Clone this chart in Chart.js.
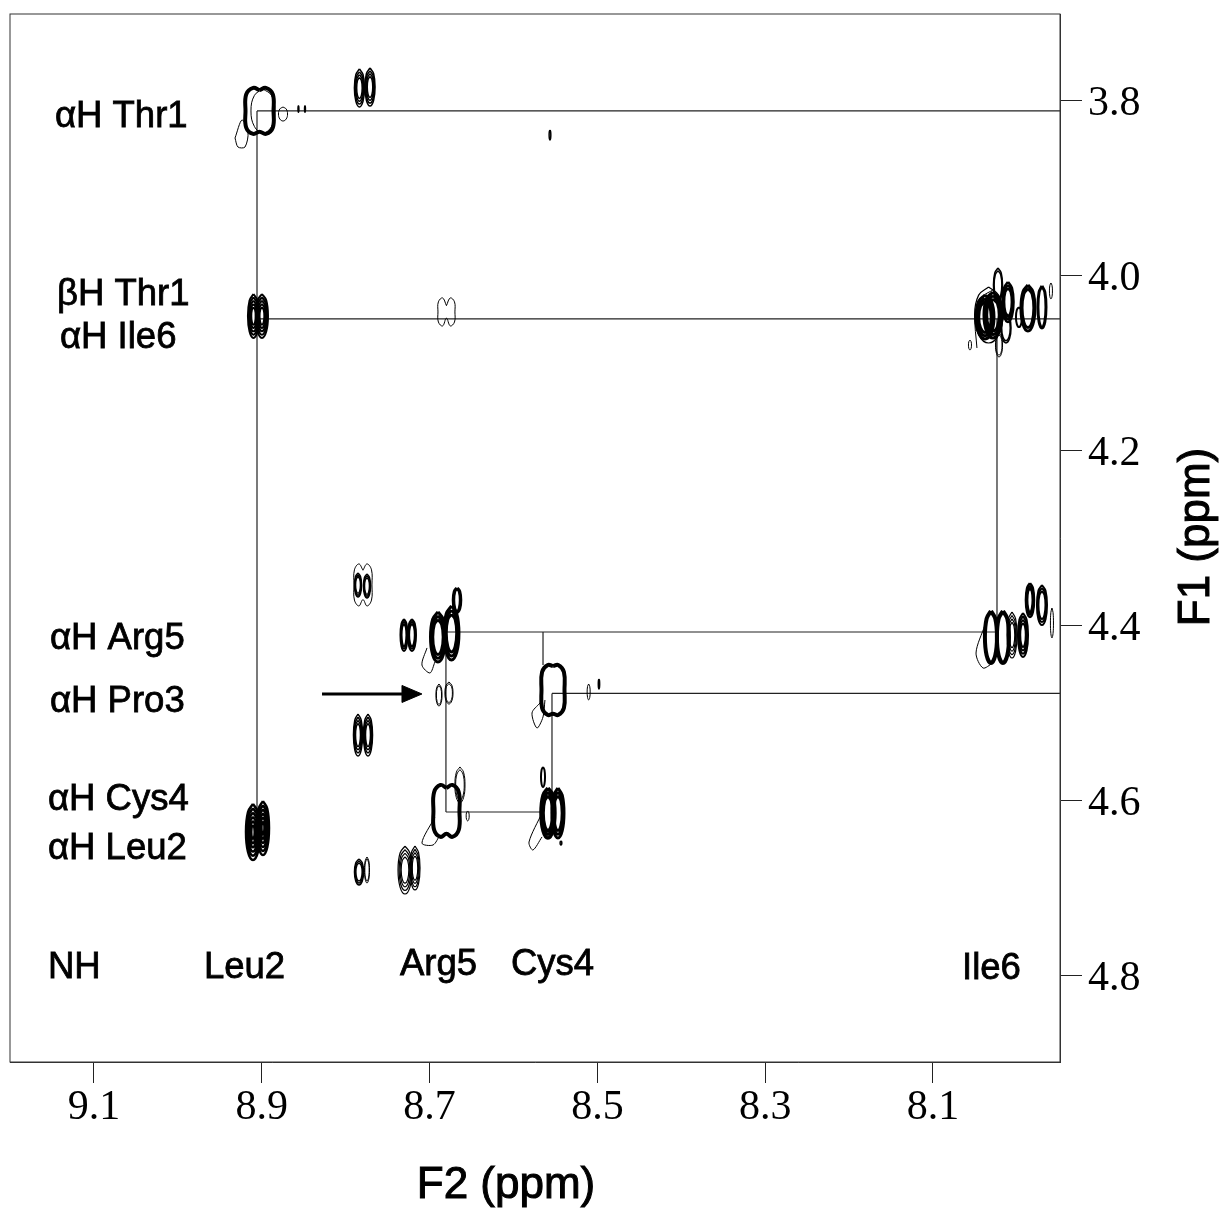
<!DOCTYPE html>
<html>
<head>
<meta charset="utf-8">
<title>F2 (ppm) / F1 (ppm)</title>
<script src="https://cdn.jsdelivr.net/npm/chart.js@4/dist/chart.umd.min.js"></script>
<style>
  html, body { margin: 0; background: #fff; }
  canvas { display: block; }
</style>
</head>
<body>
<canvas id="nmrChart" width="1219" height="1209"></canvas>
<script>
// axis ticks
const xTicks = [9.1, 8.9, 8.7, 8.5, 8.3, 8.1];
const yTicks = [3.8, 4.0, 4.2, 4.4, 4.6, 4.8];

// contour peaks, ppm: centre and half widths
const peakX = [8.9027, 8.8747, 8.8563, 8.8485, 8.7836, 8.7710, 8.5565, 8.9099, 8.8998, 8.6799,
  8.0380, 8.0285, 8.0225, 8.0106, 8.0130, 8.0213, 7.9868, 7.9701, 7.9594, 8.0559,
  8.7794, 8.7853, 8.7746, 8.7305, 8.7210, 8.6900, 8.6739, 8.6673, 8.6888, 8.6769,
  8.5529, 8.5104, 8.4981, 8.7853, 8.7734, 8.6799, 8.6638, 8.6546, 8.5589, 8.5470,
  8.5648, 8.5434, 8.7841, 8.7746, 8.7293, 8.7174, 8.9105, 8.8986, 8.0309, 8.0166,
  8.0058, 7.9927, 7.9844, 7.9701, 7.9582, 8.8986, 8.0337, 7.9975];
const peakY = [3.8114, 3.8149, 3.8091, 3.8091, 3.7851, 3.7840, 3.8389, 4.0457, 4.0457, 4.0411,
  4.0469, 4.0446, 4.0103, 4.0297, 4.0594, 4.0789, 4.0366, 4.0354, 4.0171, 4.0789,
  4.3531, 4.3531, 4.3543, 4.4103, 4.4103, 4.4126, 4.4080, 4.3703, 4.4789, 4.4766,
  4.4731, 4.4754, 4.4663, 4.5246, 4.5246, 4.6114, 4.5817, 4.6171, 4.6137, 4.6137,
  4.5726, 4.6480, 4.6811, 4.6789, 4.6789, 4.6766, 4.6354, 4.6309, 4.4126, 4.4126,
  4.4103, 4.4103, 4.3703, 4.3760, 4.3966, 3.8114, 4.0446, 4.0469];
const peakWidthX = [.0167, .0054, .0007, .0007, .0060, .0060, .0010, .0066, .0072, .0101,
  .0107, .0107, .0054, .0066, .0060, .0042, .0083, .0048, .0018, .0018,
  .0107, .0042, .0042, .0042, .0048, .0089, .0089, .0042, .0036, .0048,
  .0137, .0018, .0008, .0054, .0054, .0155, .0060, .0018, .0083, .0072,
  .0024, .0010, .0054, .0030, .0083, .0060, .0083, .0072, .0072, .0072,
  .0060, .0060, .0048, .0060, .0018, .0143, .0167, .0036];
const peakWidthY = [.0263, .0080, .0040, .0040, .0217, .0217, .0057, .0251, .0251, .0160,
  .0251, .0263, .0194, .0229, .0171, .0137, .0263, .0240, .0091, .0057,
  .0240, .0137, .0137, .0183, .0183, .0286, .0309, .0137, .0126, .0126,
  .0286, .0091, .0057, .0240, .0240, .0297, .0206, .0057, .0286, .0286,
  .0114, .0023, .0149, .0149, .0274, .0251, .0320, .0309, .0297, .0297,
  .0263, .0251, .0194, .0229, .0171, .0251, .0320, .0114];
// contour levels drawn per peak
const peakLevels = [1, 1, 1, 1, 4, 4, 1, 5, 5, 1,
  3, 3, 2, 3, 2, 2, 2, 1, 1, 1,
  1, 3, 3, 3, 3, 3, 3, 1, 2, 2,
  1, 1, 1, 4, 4, 1, 2, 1, 3, 3,
  1, 1, 3, 2, 4, 4, 6, 6, 1, 1,
  4, 4, 3, 3, 1, 1, 1, 1];
// peaks with a dip in the middle of the outline, and how far in the dip reaches
const notchedPeaks = [0, 9, 20, 30, 35];
const notchDepths = [.9, .45, .7, .95, .88];

// irregular low contours beside the strong peaks
const footX = [
  [8.9319, 8.9236, 8.9164, 8.9200, 8.9284, 8.9319],
  [8.0476, 8.0499, 8.0416, 8.0285],
  [8.7031, 8.7091, 8.6995, 8.6936],
  [8.5684, 8.5779, 8.5720, 8.5648, 8.5625],
  [8.6936, 8.7091, 8.6959, 8.6876],
  [8.5660, 8.5815, 8.5768, 8.5660],
  [8.0380, 8.0487, 8.0404, 8.0285]
];
const footY = [
  [3.8423, 3.8217, 3.8354, 3.8526, 3.8526, 3.8423],
  [4.0823, 4.0446, 4.0240, 4.0160],
  [4.4251, 4.4446, 4.4537, 4.4411],
  [4.4880, 4.4994, 4.5166, 4.5040, 4.4846],
  [4.6183, 4.6480, 4.6503, 4.6389],
  [4.6137, 4.6469, 4.6560, 4.6411],
  [4.3989, 4.4309, 4.4480, 4.4423]
];

// straight assignment lines between the peaks
const crossFromX = [8.9057, 8.9057, 8.9057, 8.0237, 8.6805, 8.5648, 8.5541, 8.5541, 8.6805, 8.6805];
const crossFromY = [3.8114, 3.8114, 4.0491, 4.0491, 4.4069, 4.4069, 4.4771, 4.4771, 4.4069, 4.6126];
const crossToX = [7.9486, 8.9057, 7.9486, 8.0237, 8.0237, 8.5648, 7.9486, 8.5541, 8.6805, 8.5648];
const crossToY = [3.8114, 4.6217, 4.0491, 4.4069, 4.4069, 4.4446, 4.4771, 4.5989, 4.6126, 4.6126];

// arrow pointing at the Pro3 cross peak
const arrowX = [8.8282, 8.7329];
const arrowY = [4.4777, 4.4777];
const arrowHeadX = [8.7329, 8.7091, 8.7329, 8.7329];
const arrowHeadY = [4.4680, 4.4777, 4.4874, 4.4680];

// annotations
const labelTexts = ['αH Thr1', 'βH Thr1', 'αH Ile6', 'αH Arg5', 'αH Pro3', 'αH Cys4', 'αH Leu2',
  'NH', 'Leu2', 'Arg5', 'Cys4', 'Ile6'];
const labelX = [9.1465, 9.1441, 9.1405, 9.1524, 9.1524, 9.1548, 9.1548,
  9.1548, 8.9689, 8.7353, 8.6030, 8.0654];
const labelY = [3.8185, 4.0219, 4.0711, 4.4151, 4.4871, 4.5991, 4.6551,
  4.7911, 4.7911, 4.7876, 4.7876, 4.7922];

// line weight per peak, px
const peakWeights = [4, 1, 1.2, 1.2, 1.5, 1.5, 1.5, 2, 2, 1,
  3, 3, 1.5, 2.5, 1.5, 1, 3, 3, 1, 1,
  1, 1.5, 1.5, 2, 2, 3, 3, 3.5, 1, 1,
  4, 1, 1.5, 1.5, 1.5, 4, 1, 1, 3.5, 3,
  2, 1.5, 1.5, 1, 1.2, 1.2, 2.5, 2.5, 4, 4,
  1.2, 2, 2.5, 2, 1, 1, 1.2, 2];

// unit outlines of a contour, run through a spline by the line element
const ovalShape = [[0, -1], [.71, -.71], [1, 0], [.71, .71], [0, 1], [-.71, .71], [-1, 0], [-.71, -.71], [0, -1]];

function notchShape(depth) {
  return [[0, -depth], [.45, -1], [.95, -.72], [1, 0], [.95, .72], [.45, 1], [0, depth],
    [-.45, 1], [-.95, .72], [-1, 0], [-.95, -.72], [-.45, -1], [0, -depth]];
}

const datasets = [];

function addLine(points, width, extra) {
  datasets.push(Object.assign({
    data: points,
    showLine: true,
    borderColor: '#000',
    backgroundColor: '#000',
    borderWidth: width,
    pointRadius: 0,
    tension: 0
  }, extra || {}));
}

peakX.forEach((x, i) => {
  const n = notchedPeaks.indexOf(i);
  const shape = n >= 0 ? notchShape(notchDepths[n]) : ovalShape;
  for (let level = 0; level < peakLevels[i]; level++) {
    const k = 1 - level * 0.15;
    addLine(shape.map(p => ({
      x: x + p[0] * peakWidthX[i] * k,
      y: peakY[i] + p[1] * peakWidthY[i] * k
    })), peakWeights[i], { tension: 0.4 });
  }
});

footX.forEach((xs, i) => {
  addLine(xs.map((x, j) => ({ x: x, y: footY[i][j] })), 1, { tension: 0.3 });
});

crossFromX.forEach((x, i) => {
  addLine([{ x: x, y: crossFromY[i] }, { x: crossToX[i], y: crossToY[i] }], 1.2, { borderColor: '#222' });
});

addLine(arrowX.map((x, i) => ({ x: x, y: arrowY[i] })), 3);
addLine(arrowHeadX.map((x, i) => ({ x: x, y: arrowHeadY[i] })), 1, { fill: 'shape' });

function boldText(c, text, x, y, weight) {
  c.lineWidth = weight;
  c.strokeStyle = '#000';
  c.strokeText(text, x, y);
  c.fillText(text, x, y);
}

// frame, annotations and axis titles
const annotate = {
  id: 'annotate',
  afterDraw(chart) {
    const c = chart.ctx;
    const a = chart.chartArea;
    c.save();
    c.strokeStyle = '#333';
    c.lineWidth = 1;
    c.strokeRect(a.left, a.top, a.right - a.left, a.bottom - a.top);
    c.fillStyle = '#000';
    c.textBaseline = 'middle';
    c.textAlign = 'left';
    c.font = '36.5px "Liberation Sans"';
    labelTexts.forEach((t, i) => {
      boldText(c, t, chart.scales.x.getPixelForValue(labelX[i]), chart.scales.y.getPixelForValue(labelY[i]), 0.8);
    });
    c.textAlign = 'center';
    c.font = '44px "Liberation Sans"';
    boldText(c, 'F2 (ppm)', 506, 1186, 1);
    c.translate(1197, 537);
    c.rotate(-Math.PI / 2);
    boldText(c, 'F1 (ppm)', 0, 0, 1);
    c.restore();
  }
};

new Chart(document.getElementById('nmrChart'), {
  type: 'scatter',
  data: { datasets: datasets },
  plugins: [annotate],
  options: {
    responsive: false,
    animation: false,
    events: [],
    layout: { padding: { left: 10, top: 14, right: 0, bottom: 0 } },
    plugins: { legend: { display: false }, tooltip: { enabled: false } },
    scales: {
      x: {
        type: 'linear',
        position: 'bottom',
        reverse: true,
        min: 7.9486,
        max: 9.2001,
        afterBuildTicks: s => { s.ticks = xTicks.map(v => ({ value: v })); },
        afterFit: s => { s.height = 147; s.paddingLeft = 0; s.paddingRight = 0; },
        grid: { drawOnChartArea: false, drawTicks: true, tickLength: 21, color: '#222' },
        border: { color: '#333' },
        ticks: {
          color: '#000',
          padding: 0,
          maxRotation: 0,
          autoSkip: false,
          font: { family: '"Liberation Serif"', size: 42 },
          callback: v => v.toFixed(1)
        }
      },
      y: {
        type: 'linear',
        position: 'right',
        reverse: true,
        min: 3.7006,
        max: 4.8983,
        afterBuildTicks: s => { s.ticks = yTicks.map(v => ({ value: v })); },
        afterFit: s => { s.width = 159; s.paddingTop = 0; s.paddingBottom = 0; },
        grid: { drawOnChartArea: false, drawTicks: true, tickLength: 22, color: '#222' },
        border: { color: '#333' },
        ticks: {
          color: '#000',
          padding: 6,
          labelOffset: 3,
          autoSkip: false,
          font: { family: '"Liberation Serif"', size: 42 },
          callback: v => v.toFixed(1)
        }
      }
    }
  }
});
</script>
</body>
</html>
